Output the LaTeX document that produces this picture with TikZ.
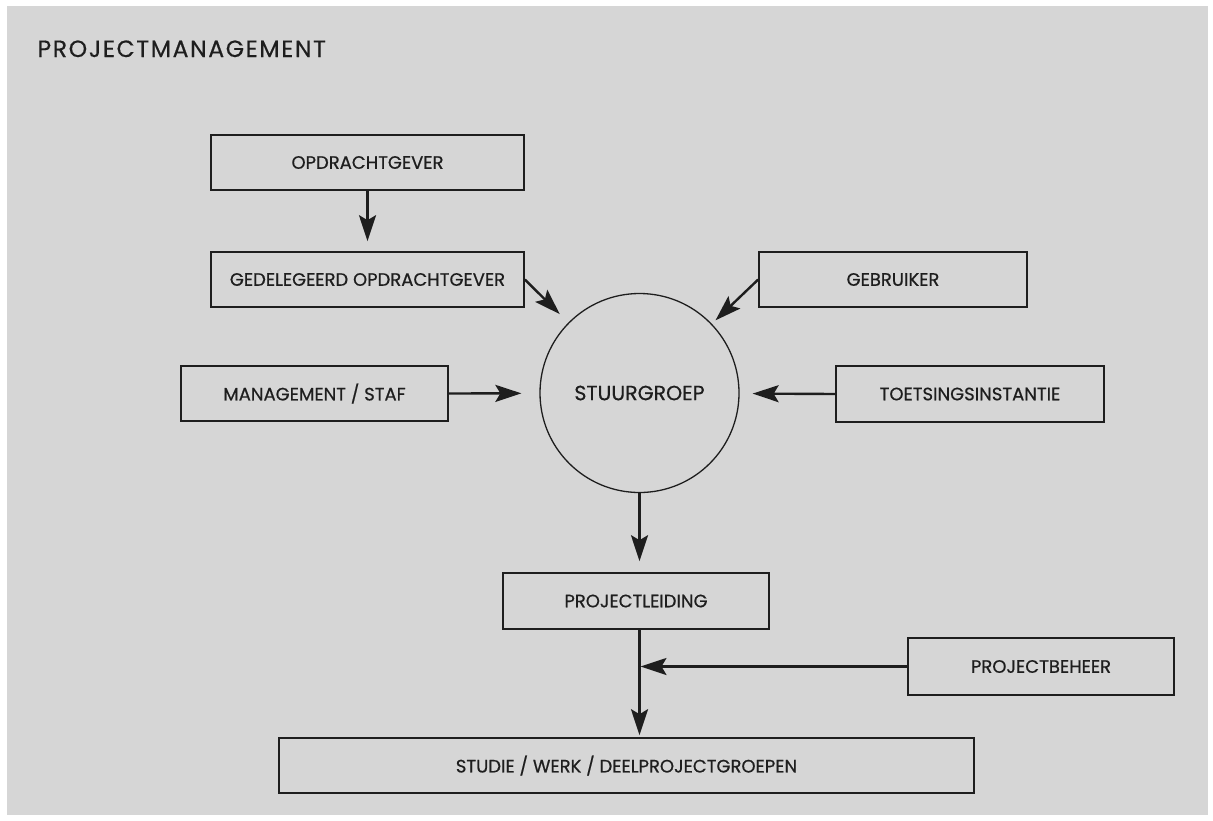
\documentclass[tikz,border=0pt]{standalone}
\usepackage{fontspec}
\setmainfont{Poppins}[FakeBold=0.6]
\newfontfamily\titlefont{Poppins}[LetterSpace=7,FakeBold=0.5]
\usetikzlibrary{arrows.meta}
\definecolor{paper}{HTML}{D6D6D6}
\definecolor{ink}{HTML}{1E1E1E}
\tikzset{
  box/.style={draw=ink, line width=1.6pt, rectangle, minimum height=55pt, inner sep=0pt,
              font=\fontsize{18}{20}\selectfont, text=ink},
  hub/.style={draw=ink, line width=1.3pt, circle, minimum size=199pt, inner sep=0pt,
              font=\fontsize{20.5}{22}\selectfont, text=ink},
  arr/.style={draw=ink, line width=2.4pt, -{Stealth[length=26pt, width=17pt, inset=5pt]}},
  plain/.style={draw=ink, line width=2.4pt}
}
\begin{document}
\begin{tikzpicture}[x=1pt, y=-1pt]
\useasboundingbox (0,0) rectangle (1213,820);
\fill[paper] (7,6) rectangle (1208,815);
\node[anchor=base west, text=ink, font=\titlefont\fontsize{23.5}{25}\selectfont] (title) at (34,57) {PROJECTMANAGEMENT};

\node[box, minimum width=313pt] (opd) at (367.5,162.5) {OPDRACHTGEVER};
\node[box, minimum width=313pt] (gedel) at (367.5,279.5) {GEDELEGEERD OPDRACHTGEVER};
\node[box, minimum width=268pt] (geb) at (893,279.5) {GEBRUIKER};
\node[box, minimum width=267pt] (mgmt) at (314.5,393.5) {MANAGEMENT / STAF};
\node[box, minimum width=268pt, minimum height=56pt] (toets) at (970,394) {TOETSINGSINSTANTIE};
\node[hub] (stuur) at (639.5,393) {STUURGROEP};
\node[box, minimum width=266pt, minimum height=56pt] (pl) at (636,601) {PROJECTLEIDING};
\node[box, minimum width=266pt, minimum height=57pt] (pb) at (1041,666.5) {PROJECTBEHEER};
\node[box, minimum width=695pt] (studie) at (626.5,765.5) {STUDIE / WERK / DEELPROJECTGROEPEN};

\coordinate (join) at (stuur.south |- pb.west);

\draw[arr, shorten >=10pt] (opd) -- (gedel);
\draw[arr, shorten >=12pt] (gedel.east) -- (stuur);
\draw[arr, shorten >=5pt] (geb.west) -- (stuur);
\draw[arr, shorten >=18pt] (mgmt.east) -- (stuur);
\draw[arr, shorten >=13pt] (toets.west) -- (stuur);
\draw[arr, shorten >=11pt] (stuur.south) -- (stuur.south |- pl.north);
\draw[arr, shorten >=2pt] (stuur.south |- pl.south) -- (stuur.south |- studie.north);
\draw[arr, shorten >=1pt] (pb.west) -- (join);
\end{tikzpicture}
\end{document}
